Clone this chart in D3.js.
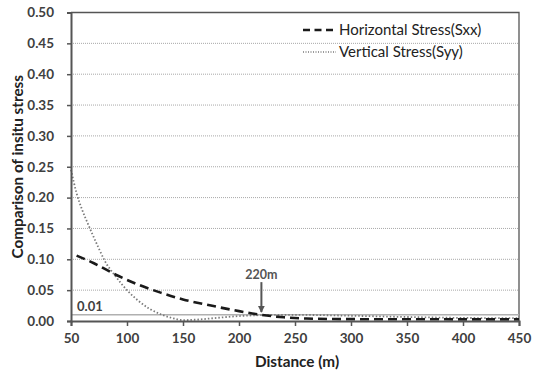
<!DOCTYPE html>
<html>
<head>
<meta charset="utf-8">
<script src="https://cdn.jsdelivr.net/npm/d3@7"></script>
<style>
  body { margin: 0; background: #fff; }
  svg { display: block; font-family: Lato, 'Open Sans', sans-serif; }
</style>
</head>
<body>
<svg id="chart" width="534" height="372"></svg>
<script>
// distance (m) vs stress ratio
const sxx = [
  [55, 0.106], [70, 0.094], [90, 0.075], [110, 0.059], [130, 0.046],
  [150, 0.035], [175, 0.025], [200, 0.016], [220, 0.010], [240, 0.006],
  [260, 0.004], [300, 0.003], [350, 0.0028], [400, 0.0027], [450, 0.0027]
];
const syy = [
  [50, 0.245], [55, 0.207], [60, 0.18], [65, 0.158], [70, 0.137],
  [75, 0.117], [80, 0.098], [90, 0.072], [100, 0.05], [110, 0.033],
  [120, 0.02], [130, 0.011], [140, 0.005], [150, 0.0015], [160, 0.002],
  [180, 0.005], [200, 0.008], [220, 0.0095], [250, 0.01], [300, 0.0085],
  [350, 0.0065], [400, 0.005], [450, 0.0045]
];
const xTicks = [50, 100, 150, 200, 250, 300, 350, 400, 450];
const yTicks = [0, 0.05, 0.1, 0.15, 0.2, 0.25, 0.3, 0.35, 0.4, 0.45, 0.5];
const refValue = 0.01;
const markX = 220;

const svg = d3.select('#chart');
const margin = { top: 12.5, right: 15, bottom: 51, left: 71 };
const width = +svg.attr('width') - margin.left - margin.right;
const height = +svg.attr('height') - margin.top - margin.bottom;
const g = svg.append('g')
  .attr('transform', 'translate(' + margin.left + ',' + margin.top + ')');

const x = d3.scaleLinear().domain([50, 450]).range([0, width]);
const y = d3.scaleLinear().domain([0, 0.5]).range([height, 0]);

// gridlines
g.append('g')
  .selectAll('line')
  .data(yTicks.filter(d => d > 0 && d < 0.5))
  .enter()
  .append('line')
  .attr('x1', 0)
  .attr('x2', width)
  .attr('y1', d => y(d))
  .attr('y2', d => y(d))
  .attr('stroke', '#a8a8a8')
  .attr('stroke-width', 1)
  .attr('stroke-dasharray', '1,1');

// frame top/right
g.append('path')
  .attr('d', 'M0,0H' + width + 'V' + height)
  .attr('fill', 'none')
  .attr('stroke', '#555')
  .attr('stroke-width', 1.3);

// reference line 0.01
g.append('line')
  .attr('x1', 0).attr('x2', width)
  .attr('y1', y(refValue)).attr('y2', y(refValue))
  .attr('stroke', '#b0b0b0')
  .attr('stroke-width', 1.5);

g.append('text')
  .attr('x', 6)
  .attr('y', y(refValue) - 4)
  .attr('fill', '#404040')
  .attr('font-size', 13)
  .attr('font-weight', 'bold')
  .text('0.01');

const line = d3.line()
  .x(d => x(d[0]))
  .y(d => y(d[1]))
  .curve(d3.curveMonotoneX);

g.append('path')
  .datum(syy)
  .attr('d', line)
  .attr('fill', 'none')
  .attr('stroke', '#7a7a7a')
  .attr('stroke-width', 1.8)
  .attr('stroke-dasharray', '1.5,2');

g.append('path')
  .datum(sxx)
  .attr('d', line)
  .attr('fill', 'none')
  .attr('stroke', '#1a1a1a')
  .attr('stroke-width', 2.6)
  .attr('stroke-dasharray', '9,5');

// axes
const xAxis = g.append('g')
  .attr('transform', 'translate(0,' + height + ')')
  .call(d3.axisBottom(x).tickValues(xTicks).tickSize(5).tickPadding(7));
const yAxis = g.append('g')
  .call(d3.axisLeft(y).tickValues(yTicks).tickFormat(d3.format('.2f')).tickSize(4).tickPadding(13));

[xAxis, yAxis].forEach(a => {
  a.select('.domain').attr('stroke', '#555').attr('stroke-width', 2);
  a.selectAll('.tick line').attr('stroke', '#555').attr('stroke-width', 1.5);
  a.selectAll('.tick text')
    .attr('fill', '#404040')
    .attr('font-size', 13.5)
    .attr('font-weight', 'bold')
    .attr('font-family', 'Lato, sans-serif');
});

// arrow at 220 m
svg.append('defs').append('marker')
  .attr('id', 'arrow')
  .attr('viewBox', '0 0 10 10')
  .attr('refX', 9).attr('refY', 5)
  .attr('markerWidth', 3.5).attr('markerHeight', 4)
  .attr('orient', 'auto')
  .append('path')
  .attr('d', 'M0,0L10,5L0,10Z')
  .attr('fill', '#555');

g.append('line')
  .attr('x1', x(markX)).attr('x2', x(markX))
  .attr('y1', y(0.063)).attr('y2', y(0.0145))
  .attr('stroke', '#555')
  .attr('stroke-width', 2)
  .attr('marker-end', 'url(#arrow)');

g.append('text')
  .attr('x', x(markX))
  .attr('y', y(0.068))
  .attr('text-anchor', 'middle')
  .attr('fill', '#555')
  .attr('font-size', 12.5)
  .attr('font-weight', 'bold')
  .text('220m');

// axis titles
svg.append('text')
  .attr('x', margin.left + width / 2 + 2)
  .attr('y', 367)
  .attr('text-anchor', 'middle')
  .attr('fill', '#222')
  .attr('font-size', 15.3)
  .attr('font-weight', 'bold')
  .text('Distance (m)');

svg.append('text')
  .attr('transform', 'translate(23,' + (margin.top + height / 2) + ') rotate(-90)')
  .attr('text-anchor', 'middle')
  .attr('fill', '#222')
  .attr('font-size', 15.3)
  .attr('font-weight', 'bold')
  .text('Comparison of insitu stress');

// legend
const legend = svg.append('g')
  .attr('font-size', 15)
  .attr('fill', '#222');

const keys = [
  { name: 'Horizontal Stress(Sxx)', stroke: '#1a1a1a', w: 2.6, dash: '7,4.5', y: 30 },
  { name: 'Vertical Stress(Syy)', stroke: '#7a7a7a', w: 1.3, dash: '1,1.5', y: 52 }
];

const item = legend.selectAll('g')
  .data(keys)
  .enter()
  .append('g')
  .attr('transform', d => 'translate(0,' + d.y + ')');

item.append('line')
  .attr('x1', 303).attr('x2', 336)
  .attr('stroke', d => d.stroke)
  .attr('stroke-width', d => d.w)
  .attr('stroke-dasharray', d => d.dash);

item.append('text')
  .attr('x', 339)
  .attr('dy', '0.35em')
  .text(d => d.name);
</script>
</body>
</html>
